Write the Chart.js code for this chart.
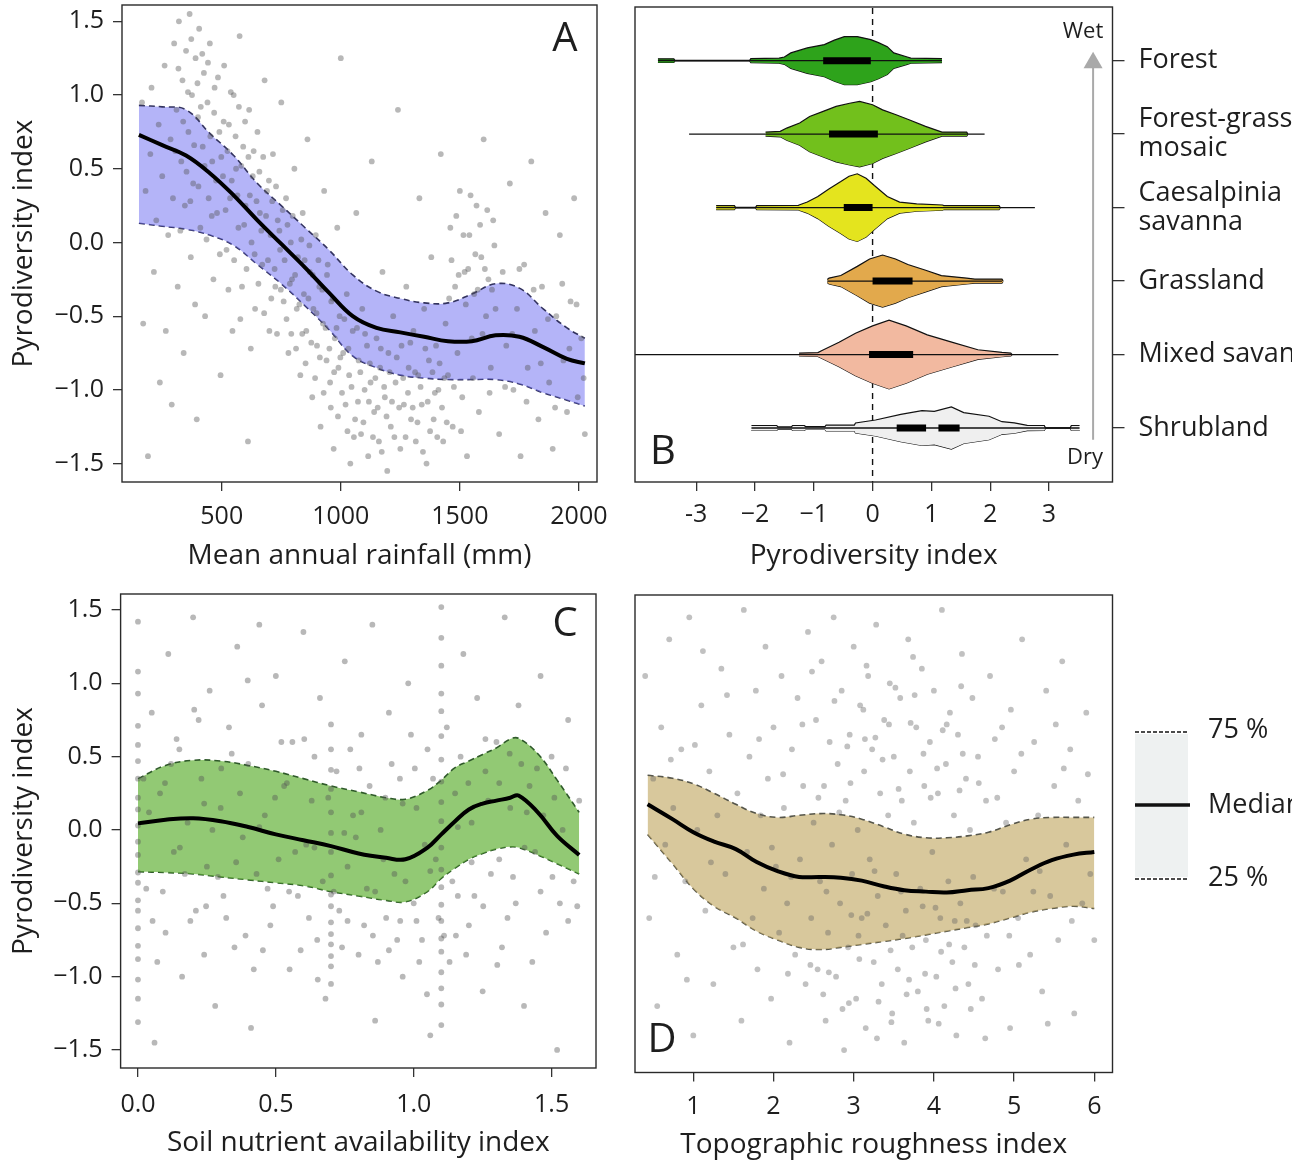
<!DOCTYPE html>
<html><head><meta charset="utf-8">
<script src="https://cdn.jsdelivr.net/npm/chart.js@4.4.1/dist/chart.umd.min.js"></script>
<style>
html,body{margin:0;padding:0;background:#fff;width:1292px;height:1166px;overflow:hidden}
canvas{position:absolute;display:block}
</style></head><body>
<canvas id="cA" width="620" height="580" style="left:0;top:0"></canvas>
<canvas id="cB" width="662" height="580" style="left:630px;top:0"></canvas>
<canvas id="cC" width="620" height="586" style="left:0;top:580px"></canvas>
<canvas id="cD" width="662" height="586" style="left:630px;top:580px"></canvas>
<script>
// ---------- shared tick labels ----------
const pyroTicks = [-1.5,-1,-0.5,0,0.5,1,1.5];
const pyroTickLabels = ['\u22121.5','\u22121.0','\u22120.5','0.0','0.5','1.0','1.5'];
const rainfallTicks = [500,1000,1500,2000];
const rainfallTickLabels = ['500','1000','1500','2000'];
const soilTicks = [0,0.5,1,1.5];
const soilTickLabels = ['0.0','0.5','1.0','1.5'];
const roughTicks = [1,2,3,4,5,6];
const roughTickLabels = ['1','2','3','4','5','6'];
const vegXTicks = [-3,-2,-1,0,1,2,3];
const vegXTickLabels = ['-3','\u22122','\u22121','0','1','2','3'];

// ---------- Panel A: rainfall ----------
const rainfallGrid   = [152,250,350,450,550,650,750,850,950,1050,1150,1250,1350,1450,1550,1650,1750,1850,1950,2025];
const rainfallMedian = [0.73,0.66,0.59,0.47,0.32,0.15,-0.01,-0.17,-0.34,-0.50,-0.58,-0.61,-0.64,-0.67,-0.67,-0.63,-0.64,-0.71,-0.79,-0.82];
const rainfallQ75    = [0.93,0.92,0.90,0.74,0.59,0.40,0.25,0.10,-0.05,-0.22,-0.33,-0.38,-0.41,-0.41,-0.35,-0.28,-0.31,-0.45,-0.58,-0.65];
const rainfallQ25    = [0.13,0.11,0.09,0.05,-0.02,-0.15,-0.28,-0.43,-0.59,-0.77,-0.85,-0.90,-0.92,-0.93,-0.93,-0.93,-0.96,-1.02,-1.07,-1.11];
const rainfallPoints = [
[165,0.95],[170,-0.55],[180,0.35],[190,-1.45],[200,0.6],[205,1.05],[215,-0.2],[225,0.15],[235,0.8],[240,-0.95],[250,0.45],[260,1.2],[265,-0.6],[275,0.05],[285,0.7],[290,-1.1],[295,0.3],[300,1.35],
[310,0.9],[315,-0.3],[320,1.5],[330,0.55],[335,1.1],[340,-0.75],[345,0.25],[350,1.3],[360,0.75],[365,1.55],[370,-0.1],[375,1.0],[380,0.4],[390,1.25],[395,-1.2],[400,0.85],[405,1.45],[410,0.1],[420,0.65],[425,1.15],[430,-0.5],[440,0.95],[445,0.3],[450,1.35],[460,0.55],[465,-0.25],[470,1.05],[480,0.2],[490,0.75],[495,-0.9],
[505,0.45],[510,1.2],[520,-0.05],[530,0.8],[535,0.3],[545,-0.6],[550,1.0],[560,0.5],[570,0.1],[575,1.4],[585,-0.3],[590,0.65],[600,0.25],[610,-1.35],[615,0.9],[625,0.0],[630,0.45],[640,-0.45],[650,0.75],[660,0.2],[670,-0.15],[680,1.1],[690,0.35],[700,-0.6],[705,0.05],[715,0.6],[725,-0.3],[735,0.15],[745,-0.05],[750,0.95],[760,-0.4],[770,0.3],[780,-0.75],[790,0.0],[795,-0.25],
[805,0.5],[815,-0.45],[820,-0.1],[830,-0.9],[840,0.2],[845,-0.35],[855,-0.6],[860,0.7],[870,-0.2],[880,-1.05],[885,-0.45],[895,0.05],[900,-0.7],[910,-0.3],[915,-1.25],[925,-0.55],[930,0.35],[940,-0.8],[945,-0.15],[955,-0.95],[960,-0.4],[970,-1.4],[975,-0.65],[985,0.1],[990,-0.85],[995,-0.5],[1000,1.25],
[1010,-0.75],[1020,-1.1],[1025,-0.35],[1035,-0.9],[1040,-1.5],[1050,-0.6],[1060,-1.2],[1065,0.2],[1075,-0.8],[1085,-1.3],[1090,-0.45],[1100,-1.0],[1110,-0.7],[1115,-1.45],[1125,-0.95],[1130,0.55],[1140,-1.15],[1150,-0.65],[1160,-1.35],[1165,-0.85],[1175,-0.2],[1185,-1.05],[1195,-1.55],[1200,-0.75],[1210,-1.25],[1220,-0.5],[1230,-0.95],[1240,0.9],[1250,-1.4],[1255,-0.7],[1265,-1.1],[1275,-0.3],[1285,-0.85],[1295,-1.2],
[1305,-0.6],[1315,-1.35],[1325,-0.9],[1330,0.3],[1340,-1.1],[1350,-0.45],[1360,-1.5],[1370,-0.8],[1380,-0.1],[1390,-1.2],[1400,-0.7],[1410,-1.0],[1420,0.6],[1430,-1.35],[1440,-0.55],[1450,-0.9],[1460,0.1],[1470,-1.25],[1480,-0.3],[1490,-0.75],[1500,0.35],[1510,-1.05],[1520,-0.2],[1530,-1.45],[1540,0.05],[1550,-0.65],[1560,-0.35],[1570,0.25],[1580,-1.15],[1590,-0.1],[1600,0.7],[1610,-0.5],[1620,-0.25],[1630,-0.85],[1640,0.15],[1650,-0.45],
[1665,-1.3],[1680,-0.2],[1695,-0.7],[1710,0.4],[1725,-1.0],[1740,-0.45],[1755,-1.45],[1770,-0.15],[1785,-0.85],[1800,0.55],[1815,-0.6],[1830,-1.2],[1845,-0.3],[1860,0.2],[1875,-0.95],[1890,-1.4],[1905,-0.5],[1920,0.05],[1935,-0.8],[1950,-1.15],[1965,-0.4],[1980,0.3],[1995,-1.05],[2010,-0.65],[2025,-1.3],
[305,0.62],[318,1.18],[326,0.08],[338,0.82],[352,0.48],[358,1.02],[368,0.28],[372,1.38],[384,0.66],[388,-0.42],[398,1.08],[402,0.38],[412,0.92],[418,1.28],[428,0.52],[436,0.02],[442,1.22],[452,0.72],[458,0.18],[468,0.88],[476,0.42],[484,1.12],[492,-0.08],[498,0.58],
[508,0.82],[516,0.22],[524,0.62],[528,-0.32],[538,1.02],[542,0.42],[552,-0.12],[558,0.72],[566,0.32],[572,0.92],[578,-0.52],[582,0.52],[594,0.12],[598,0.82],[604,-0.18],[612,0.58],[618,0.32],[622,-0.72],[634,0.62],[638,-0.08],[646,0.28],[654,-0.28],[658,0.48],[666,0.08],[674,0.58],[678,-0.48],[686,0.18],[694,-0.12],[698,0.42],[708,-0.38],[712,0.28],[722,-0.18],[728,0.38],[732,-0.62],[742,0.08],[748,-0.32],[756,0.22],[764,-0.12],[772,-0.52],[776,0.12],[786,-0.28],[792,-0.62],[798,0.18],
[808,-0.22],[812,-0.72],[826,-0.42],[834,0.02],[838,-0.62],[848,-0.12],[852,-0.82],[864,-0.38],[868,-0.02],[876,-0.68],[882,-0.22],[892,-0.92],[898,-0.48],[906,-0.12],[912,-0.78],[922,-0.32],[928,-1.02],[936,-0.58],[942,-0.22],[952,-0.72],[958,-1.12],[966,-0.38],[972,-0.88],[982,-0.58],[988,-1.18],[998,-0.78],
[1005,-1.02],[1015,-0.52],[1028,-1.28],[1032,-0.72],[1045,-0.98],[1055,-1.32],[1068,-0.58],[1072,-1.08],[1082,-0.88],[1095,-1.22],[1102,-0.62],[1118,-1.08],[1122,-0.82],[1135,-1.32],[1145,-0.92],[1155,-1.12],[1168,-0.72],[1172,-1.42],[1182,-0.98],[1192,-1.18],[1205,-0.88],[1215,-1.08],[1225,-1.32],[1235,-0.78],[1245,-1.12],[1262,-0.92],[1272,-1.32],[1282,-1.02],[1292,-0.68],
[1302,-1.12],[1312,-0.88],[1322,-1.22],[1335,-0.98],[1345,-1.42],[1355,-0.72],[1365,-1.08],[1375,-1.28],[1385,-0.88],[1395,-1.02],[1405,-1.32],[1415,-0.82],[1425,-1.12],[1435,-0.92],[1445,-1.22],[1455,-0.38],[1465,-0.12],[1475,-0.98],[1485,0.18],[1495,-0.22],[1505,-1.28],[1515,0.05],[1525,-0.42],[1535,-0.18],[1545,0.32],[1555,-0.92],[1565,-0.08],[1575,-0.32],[1585,0.12],[1595,-0.62],[1605,-0.18],[1615,0.22],[1625,-1.02],[1635,-0.32],[1645,-0.02],
[1690,-0.98],[1720,-0.62],[1750,-0.18],[1780,-1.08],[1810,-0.32],[1840,-0.82],[1870,-0.52],[1900,-1.12],[1930,-0.28],[1960,-0.72],[1990,-0.42],[2020,-0.92]
];

// ---------- Panel B: vegetation types ----------
const vegTypes = ['Shrubland','Mixed savanna','Grassland','Caesalpinia savanna','Forest-grass mosaic','Forest'];
const vegTypeLabels = [['Shrubland'],['Mixed savanna'],['Grassland'],['Caesalpinia','savanna'],['Forest-grass','mosaic'],['Forest']];
const vegColors = ['#efefef','#f2b9a0','#e2a94c','#e4e41e','#72c01c','#2ea31b'];
const vegMin = [-2.06,-4.6,-0.77,-2.66,-3.12,-3.65];
const vegMax = [3.52,3.16,2.20,2.76,1.905,1.18];
const vegQ25 = [0.41,-0.06,0.0,-0.49,-0.74,-0.84];
const vegQ75 = [1.48,0.69,0.68,0.0,0.09,-0.03];
const shrubMedianGap = [0.91,1.12];
// violin outlines: pyrodiversity position and half width (category units)
const shrubX = [-2.06,-1.63,-1.61,-1.38,-1.36,-1.16,-1.14,-0.81,-0.79,-0.31,-0.29,0.05,0.48,0.84,1.05,1.34,1.55,1.98,2.2,2.41,2.63,2.92,2.94,3.36,3.38,3.52];
const shrubW = [0.034,0.034,0.014,0.014,0.034,0.034,0.02,0.02,0.04,0.04,0.068,0.109,0.186,0.237,0.226,0.286,0.21,0.16,0.086,0.07,0.035,0.034,0.003,0.003,0.034,0.034];
const mixedX = [-1.25,-0.93,-0.86,-0.57,-0.29,0.0,0.28,0.57,0.93,1.36,1.79,2.2,2.35,2.37];
const mixedW = [0.02,0.027,0.054,0.166,0.29,0.39,0.468,0.39,0.267,0.166,0.065,0.03,0.02,0.003];
const grassX = [-0.77,-0.74,-0.54,-0.26,-0.05,0.17,0.39,0.60,0.89,1.17,1.6,1.74,2.2,2.22];
const grassW = [0.02,0.04,0.075,0.20,0.30,0.354,0.30,0.226,0.15,0.075,0.04,0.027,0.027,0.003];
const caesX = [-2.66,-2.35,-2.33,-1.99,-1.97,-1.26,-1.25,-1.11,-0.93,-0.75,-0.54,-0.40,-0.26,-0.11,0.03,0.25,0.46,0.75,1.19,1.21,2.15,2.17];
const caesW = [0.027,0.027,0.003,0.003,0.027,0.03,0.035,0.075,0.15,0.25,0.354,0.427,0.46,0.40,0.30,0.15,0.075,0.05,0.035,0.027,0.027,0.003];
const mosaicX = [-1.82,-1.57,-1.46,-1.24,-1.07,-0.84,-0.62,-0.39,-0.22,0.0,0.17,0.40,0.62,0.90,1.07,1.18,1.35,1.60,1.62];
const mosaicW = [0.027,0.037,0.082,0.15,0.24,0.31,0.377,0.42,0.445,0.40,0.33,0.263,0.195,0.105,0.058,0.027,0.027,0.027,0.003];
const forestX = [-3.65,-3.38,-3.36,-2.09,-2.07,-1.59,-1.50,-1.39,-1.11,-0.82,-0.65,-0.48,-0.26,-0.03,0.10,0.25,0.36,0.59,0.65,1.18];
const forestW = [0.025,0.025,0.003,0.003,0.027,0.034,0.05,0.105,0.173,0.218,0.279,0.327,0.327,0.286,0.245,0.19,0.105,0.05,0.034,0.027];

// ---------- Panel C: soil ----------
const soilGrid   = [0.0,0.1,0.2,0.3,0.4,0.5,0.6,0.7,0.8,0.9,0.97,1.05,1.1,1.15,1.2,1.25,1.3,1.35,1.38,1.45,1.52,1.6];
const soilMedian = [0.045,0.07,0.08,0.06,0.02,-0.03,-0.07,-0.11,-0.16,-0.19,-0.20,-0.12,-0.03,0.06,0.14,0.18,0.20,0.22,0.235,0.12,-0.04,-0.17];
const soilQ75    = [0.35,0.44,0.475,0.47,0.44,0.40,0.35,0.30,0.26,0.22,0.21,0.27,0.34,0.425,0.47,0.515,0.56,0.62,0.625,0.52,0.34,0.12];
const soilQ25    = [-0.285,-0.29,-0.30,-0.32,-0.34,-0.36,-0.38,-0.42,-0.45,-0.48,-0.49,-0.42,-0.33,-0.26,-0.20,-0.16,-0.13,-0.115,-0.12,-0.17,-0.23,-0.30];
const soilPoints = [
[0,1.42],[0,1.08],[0,0.93],[0,0.71],[0,0.58],[0,0.47],[0,0.35],[0,0.22],[0,0.14],[0,0.03],[0,-0.08],[0,-0.17],[0,-0.29],[0,-0.36],[0,-0.48],[0,-0.55],[0,-0.67],[0,-0.79],[0,-0.88],[0,-1.02],[0,-1.15],[0,-1.31],
[0.7,0.72],[0.7,0.55],[0.7,0.41],[0.7,0.28],[0.7,0.12],[0.7,-0.02],[0.7,-0.15],[0.7,-0.31],[0.7,-0.44],[0.7,-0.52],[0.7,-0.63],[0.7,-0.71],[0.7,-0.78],[0.7,-0.86],[0.7,-0.93],[0.7,-1.05],
[1.1,1.52],[1.1,1.31],[1.1,1.12],[1.1,0.93],[1.1,0.81],[1.1,0.64],[1.1,0.48],[1.1,0.33],[1.1,0.19],[1.1,0.06],[1.1,-0.12],[1.1,-0.27],[1.1,-0.39],[1.1,-0.51],[1.1,-0.62],[1.1,-0.74],[1.1,-0.83],[1.1,-0.97],[1.1,-1.08],[1.1,-1.19],[1.1,-1.33],
[0.03,-0.4],[0.05,0.8],[0.06,-1.45],[0.08,0.25],[0.1,-0.7],[0.11,1.2],[0.13,-0.15],[0.15,0.55],[0.16,-1.0],[0.18,0.05],[0.2,1.45],[0.21,-0.55],[0.23,0.35],[0.25,-0.25],[0.26,0.95],[0.28,-1.2],[0.3,0.15],[0.31,-0.45],[0.33,0.7],[0.35,-0.8],[0.36,1.25],[0.38,-0.05],[0.4,0.45],[0.41,-1.35],[0.43,-0.3],[0.45,0.85],[0.46,0.1],[0.48,-0.65],[0.5,1.05],[0.51,-0.2],[0.53,0.3],[0.55,-0.95],[0.56,0.6],[0.58,-0.45],[0.6,1.35],[0.61,-0.1],[0.63,0.2],[0.65,-0.75],[0.66,0.9],[0.68,-1.15],[0.72,0.4],[0.73,-0.55],[0.75,1.15],[0.76,-0.25],[0.78,0.1],[0.8,-0.85],[0.81,0.65],[0.83,-0.4],[0.85,1.4],[0.86,-1.3],[0.88,0.0],[0.9,-0.6],[0.91,0.8],[0.93,-0.3],[0.95,0.35],[0.96,-1.0],[0.98,1.0],[1.0,-0.5],[1.01,0.15],[1.03,-0.75],[1.05,0.55],[1.06,-1.4],[1.08,-0.2],[1.12,0.7],[1.13,-0.9],[1.15,0.25],[1.16,-0.45],[1.18,1.2],[1.2,-0.65],[1.21,0.05],[1.23,0.9],[1.25,-1.1],[1.26,0.4],[1.28,-0.3],[1.3,0.6],[1.32,-0.8],[1.33,1.45],[1.35,0.15],[1.37,-0.5],[1.38,0.85],[1.4,-1.2],[1.42,0.3],[1.44,-0.15],[1.46,1.05],[1.48,-0.7],[1.5,0.5],[1.52,-1.5],[1.54,0.0],[1.56,0.75],[1.58,-0.35],[1.6,0.2],
[0.02,0.35],[0.07,-0.9],[0.12,0.45],[0.17,-0.3],[0.22,0.75],[0.24,-0.85],[0.27,0.0],[0.32,-0.6],[0.37,0.25],[0.42,-0.95],[0.44,1.4],[0.47,-0.4],[0.52,0.6],[0.57,-0.15],[0.62,-0.6],[0.64,0.5],[0.67,-0.35],[0.74,-0.8],[0.77,0.55],[0.79,-0.05],[0.82,-0.65],[0.84,0.3],[0.87,-0.9],[0.89,-0.2],[0.92,0.45],[0.94,-0.75],[0.97,-0.35],[0.99,0.65],[1.02,-0.9],[1.04,-0.1],[1.07,0.35],[1.09,-0.6],[1.14,-0.35],[1.17,0.5],[1.19,-0.85],[1.22,-0.45],[1.27,0.2],[1.31,-0.2],[1.34,-0.6],[1.39,0.45],[1.43,-0.9],[1.47,0.1],[1.53,-0.5],
[0.04,0.12],[0.09,-0.42],[0.14,0.62],[0.19,-0.62],[0.24,0.18],[0.29,-0.32],[0.34,0.52],[0.39,-0.72],[0.44,0.02],[0.49,-0.52],[0.54,0.32],[0.59,-0.82],[0.64,-0.12],[0.69,0.22],[0.71,-0.42],[0.76,-0.62],[0.81,0.12],[0.86,-0.42],[0.91,-0.82],[0.96,0.18],[1.01,-0.62],[1.06,-0.28],[1.11,-0.72],[1.16,0.02],[1.21,-0.22],[1.26,0.62],[1.31,0.32],[1.36,-0.32],[1.41,0.12],[1.46,-0.42],[1.51,0.22],[1.56,-0.62],
[0.053,-0.62],[0.098,0.32],[0.152,-0.12],[0.204,0.82],[0.247,-0.52],[0.302,0.42],[0.356,-0.22],[0.398,1.02],[0.453,-0.82],[0.497,0.22],[0.548,-0.42],[0.603,0.62],[0.652,-1.02],[0.748,-0.02],[0.803,0.42],[0.852,-0.72],[0.897,0.22],[0.951,-0.62],[1.004,0.42],[1.048,-1.12],[1.153,-0.72],[1.198,0.32],[1.252,-0.52],[1.303,-0.92],[1.348,0.52],[1.402,-0.12],[1.447,0.42],[1.503,-0.32],[1.552,0.42],[1.593,-0.52]
];

// ---------- Panel D: topographic roughness ----------
const roughGrid   = [0.43,0.74,1.0,1.26,1.53,1.79,2.05,2.32,2.58,2.84,3.1,3.37,3.63,3.9,4.16,4.42,4.68,4.95,5.21,5.47,5.74,6.0];
const roughMedian = [0.175,0.074,-0.015,-0.079,-0.13,-0.218,-0.28,-0.32,-0.32,-0.325,-0.345,-0.383,-0.41,-0.42,-0.426,-0.41,-0.396,-0.345,-0.269,-0.206,-0.168,-0.15];
const roughQ75    = [0.373,0.353,0.315,0.25,0.175,0.112,0.086,0.10,0.112,0.104,0.074,0.023,-0.028,-0.053,-0.053,-0.04,-0.015,0.036,0.074,0.086,0.086,0.086];
const roughQ25    = [-0.03,-0.23,-0.40,-0.52,-0.60,-0.69,-0.75,-0.80,-0.815,-0.80,-0.78,-0.76,-0.74,-0.715,-0.69,-0.665,-0.64,-0.60,-0.56,-0.535,-0.52,-0.535];
const roughPoints = [
[0.4,1.05],[0.45,-0.6],[0.5,0.35],[0.55,-1.2],[0.6,0.7],[0.65,-0.1],[0.7,1.3],[0.75,0.15],[0.8,-0.85],[0.85,0.55],[0.9,-0.35],[0.95,1.45],[1.0,-1.4],[1.05,0.0],[1.1,0.85],[1.15,-0.55],[1.2,0.4],[1.25,-1.05],[1.3,0.1],[1.35,1.1],[1.4,-0.3],[1.45,0.65],[1.5,-0.8],
[1.55,0.25],[1.6,-1.3],[1.63,1.5],[1.67,-0.15],[1.7,0.5],[1.74,-0.6],[1.78,0.95],[1.8,-0.95],[1.84,0.1],[1.88,-0.4],[1.9,1.25],[1.93,0.35],[1.97,-1.15],[2.0,0.7],[2.03,-0.25],[2.07,-0.7],[2.1,1.05],[2.13,0.15],[2.17,-0.5],[2.2,-1.45],[2.23,0.55],[2.27,-0.85],[2.3,0.9],[2.33,-0.2],[2.37,0.3],[2.4,-1.05],[2.43,1.35],[2.47,-0.6],[2.5,0.05],
[2.53,0.75],[2.55,-0.95],[2.58,-0.35],[2.6,1.15],[2.63,0.3],[2.65,-1.3],[2.68,-0.7],[2.7,0.6],[2.73,-0.1],[2.75,1.45],[2.78,-1.0],[2.8,0.45],[2.83,-0.5],[2.85,0.95],[2.88,-1.5],[2.9,0.2],[2.93,-0.8],[2.95,0.65],[2.98,-0.3],[3.0,1.25],[3.03,-1.15],[3.05,0.0],[3.08,0.85],[3.1,-0.6],[3.13,0.4],[3.15,-1.35],[3.18,1.05],[3.2,-0.2],[3.23,0.55],[3.25,-0.9],[3.28,1.4],[3.3,-0.45],[3.33,0.25],[3.35,-1.05],[3.38,0.75],[3.4,-0.65],[3.43,0.1],[3.45,1.0],[3.48,-1.25],
[3.5,0.5],[3.53,-0.3],[3.55,-0.95],[3.58,0.9],[3.6,0.2],[3.63,-1.45],[3.65,-0.55],[3.68,1.3],[3.7,0.4],[3.73,-0.8],[3.75,0.05],[3.78,0.7],[3.8,-1.1],[3.83,-0.4],[3.85,1.1],[3.88,0.3],[3.9,-0.75],[3.93,-1.3],[3.95,0.6],[3.98,-0.15],[4.0,0.95],[4.03,-1.0],[4.05,0.25],[4.08,-0.6],[4.1,1.5],[4.13,-1.2],[4.15,0.45],[4.18,-0.35],[4.2,0.8],[4.23,-0.9],[4.25,0.1],[4.28,-1.4],[4.3,0.65],[4.33,-0.5],[4.35,1.2],[4.38,-0.8],[4.4,0.35],[4.43,-1.05],[4.45,0.0],[4.48,0.9],
[4.52,-0.65],[4.55,0.5],[4.6,-1.15],[4.65,0.2],[4.7,1.05],[4.75,-0.4],[4.8,-0.95],[4.85,0.7],[4.9,0.05],[4.95,-1.35],[5.0,0.4],[5.05,-0.6],[5.1,1.3],[5.15,-0.2],[5.2,-0.85],[5.25,0.6],[5.3,0.1],[5.35,-1.1],[5.4,0.95],[5.45,-0.45],[5.5,0.3],[5.55,-0.75],[5.6,1.15],[5.65,-0.1],[5.7,0.55],[5.75,-1.25],[5.8,0.2],[5.85,-0.5],[5.9,0.8],[5.95,-0.3],[6.0,-0.75],
[2.92,0.57],[3.12,0.82],[3.27,0.63],[3.52,0.97],[3.71,0.73],[3.87,0.52],[4.11,0.68],[4.32,0.27],[2.69,-0.97],[2.94,-1.18],[3.07,-0.88],[3.31,-1.17],[3.47,-1.31],[3.69,-1.02],[3.91,-1.22],[4.09,-0.83],[4.27,-1.08],[4.51,-0.92],[3.17,-0.57],[3.61,-0.72],[4.02,-0.53],[4.41,-0.62],
[2.12,0.38],[2.22,-0.32],[2.36,0.72],[2.46,-0.92],[2.56,0.22],[2.66,-0.42],[2.76,0.88],[2.86,-1.22],[2.96,0.32],[3.06,-0.72],[3.16,1.12],[3.26,-0.28],[3.36,0.48],[3.46,-0.82],[3.56,0.28],[3.66,-1.12],[3.76,0.92],[3.86,-0.52],[3.96,0.22],[4.06,-1.32],[4.16,0.72],[4.26,-0.62],[4.36,0.52],[4.46,-1.22],[4.56,0.32],[4.66,-0.72],[4.76,0.62],[4.86,-0.42],[4.96,0.82],[5.06,-0.92],
[2.18,-0.98],[2.48,1.08],[2.62,-1.12],[2.82,0.12],[2.97,-0.58],[3.14,0.62],[3.29,-1.42],[3.44,0.72],[3.59,-0.42],[3.74,1.18],[3.89,-0.98],[4.04,0.42],[4.19,-0.78],[4.34,0.98],[4.49,-0.32],[4.64,-1.42],[4.79,0.22],[4.94,-0.72],[5.09,0.52],[5.24,-0.42],
[1.02,0.58],[1.22,-0.22],[1.42,0.92],[1.62,-0.78],[1.82,0.62],[1.98,-0.12],[5.32,-0.28],[5.52,0.72],[5.72,-0.62],[5.92,0.38],[0.52,-0.32],[0.72,0.48],[0.92,-1.02],[1.12,1.22],[5.42,-1.32],[5.62,0.42]
];

// ---------- helpers ----------
const FONT = "'Open Sans', 'DejaVu Sans', sans-serif";
const INK = '#1e1e1e';
const pts = (xs, ys) => xs.map((x, i) => ({x, y: ys[i]}));

const framePlugin = { id: 'frame', afterDraw(chart) {
  const a = chart.chartArea, c = chart.ctx;
  c.save(); c.strokeStyle = '#2a2a2a'; c.lineWidth = 1.4;
  c.strokeRect(a.left, a.top, a.right - a.left, a.bottom - a.top); c.restore();
}};
function textPlugin(name, items) {
  return { id: 'txt' + name, afterDraw(chart) {
    const a = chart.chartArea, c = chart.ctx;
    c.save();
    items.forEach(it => {
      c.font = it.font; c.fillStyle = it.color || INK;
      c.textAlign = it.align || 'center'; c.textBaseline = 'middle';
      const x = it.fromRight ? a.right - it.dx : a.left + it.dx;
      const y = it.fromBottom ? a.bottom - it.dy : a.top + it.dy;
      c.fillText(it.text, x, y);
    });
    c.restore();
  }};
}
function xAxis(min, max, ticks, labels, title, tickPad, titlePad, height) {
  return { type: 'linear', position: 'bottom', min, max,
    afterBuildTicks: s => { s.ticks = ticks.map(v => ({value: v})); },
    afterFit: s => { s.height = height; s.paddingLeft = 0; s.paddingRight = 0; },
    grid: { drawOnChartArea: false, drawTicks: true, tickLength: 9, color: '#333', lineWidth: 1.3 },
    border: { display: false },
    ticks: { autoSkip: false, maxRotation: 0, padding: tickPad, color: INK, font: {family: FONT, size: 25}, callback: (v, i) => labels[i] },
    title: { display: true, text: title, color: INK, font: {family: FONT, size: 28}, padding: {top: 0, bottom: titlePad} } };
}
function yAxisLeft(min, max, width) {
  return { type: 'linear', position: 'left', min, max,
    afterBuildTicks: s => { s.ticks = pyroTicks.map(v => ({value: v})); },
    afterFit: s => { s.width = width; s.paddingTop = 0; s.paddingBottom = 0; },
    grid: { drawOnChartArea: false, drawTicks: true, tickLength: 9, color: '#333', lineWidth: 1.3 },
    border: { display: false },
    ticks: { autoSkip: false, padding: 9, color: INK, font: {family: FONT, size: 25}, callback: (v, i) => pyroTickLabels[i] },
    title: { display: true, text: 'Pyrodiversity index', color: INK, font: {family: FONT, size: 28}, padding: {top: 7, bottom: 0} } };
}
function bandSets(xs, med, q75, q25, fillColor, dashColor, scatter, ptColor) {
  return [
    {data: pts(xs, q75), showLine: true, borderColor: dashColor, borderDash: [6, 4], borderWidth: 1.6, pointRadius: 0, fill: '+1', backgroundColor: fillColor, tension: 0.4, order: 3, clip: 0},
    {data: pts(xs, q25), showLine: true, borderColor: dashColor, borderDash: [6, 4], borderWidth: 1.6, pointRadius: 0, fill: false, tension: 0.4, order: 3, clip: 0},
    {data: scatter.map(([x, y]) => ({x, y})), showLine: false, pointRadius: 2.9, pointBorderWidth: 0, pointBackgroundColor: ptColor, backgroundColor: ptColor, order: 2, clip: 0},
    {data: pts(xs, med), showLine: true, borderColor: '#000', borderWidth: 4, pointRadius: 0, fill: false, tension: 0.4, order: 1, clip: 0}
  ];
}
const baseOpts = (layoutPad, scales) => ({
  responsive: false, animation: false, events: [], devicePixelRatio: 1,
  layout: { padding: layoutPad, autoPadding: false },
  plugins: { legend: { display: false }, tooltip: { enabled: false } },
  scales });

// ---------- Chart A ----------
new Chart(document.getElementById('cA'), {
  type: 'scatter',
  data: { datasets: bandSets(rainfallGrid, rainfallMedian, rainfallQ75, rainfallQ25, 'rgba(118,118,242,0.55)', '#33335f', rainfallPoints, 'rgba(85,85,85,0.42)') },
  options: baseOpts({left: 0, top: 5, right: 23, bottom: 0}, {
    x: xAxis(81, 2076, rainfallTicks, rainfallTickLabels, 'Mean annual rainfall (mm)', 11, 7, 98),
    y: yAxisLeft(-1.625, 1.611, 122) }),
  plugins: [framePlugin, textPlugin('A', [{text: 'A', font: '40px ' + FONT, fromRight: true, dx: 32, dy: 35}])]
});

// ---------- Chart B ----------
const vegProfiles = [[shrubX, shrubW], [mixedX, mixedW], [grassX, grassW], [caesX, caesW], [mosaicX, mosaicW], [forestX, forestW]];
const bSets = [];
bSets.push({data: [{x: 0, y: -1}, {x: 0, y: 8}], showLine: true, borderColor: '#111', borderDash: [6, 5], borderWidth: 1.4, pointRadius: 0, order: 5, clip: 0});
vegProfiles.forEach(([xs, ws], i) => {
  const cat = i + 1;
  bSets.push({data: xs.map((x, k) => ({x, y: cat + ws[k]})), showLine: true, borderColor: '#111', borderWidth: 1.2, pointRadius: 0, fill: '+1', backgroundColor: vegColors[i], order: 3, clip: 0});
  bSets.push({data: xs.map((x, k) => ({x, y: cat - ws[k]})), showLine: true, borderColor: '#111', borderWidth: 1.2, pointRadius: 0, fill: false, order: 3, clip: 0});
  bSets.push({data: [{x: vegMin[i], y: cat}, {x: vegMax[i], y: cat}], showLine: true, borderColor: '#111', borderWidth: 1.3, pointRadius: 0, order: 1, clip: 0});
  const iqr = (i === 0)
    ? [{x: vegQ25[i], y: cat}, {x: shrubMedianGap[0], y: cat}, {x: (shrubMedianGap[0] + shrubMedianGap[1]) / 2, y: null}, {x: shrubMedianGap[1], y: cat}, {x: vegQ75[i], y: cat}]
    : [{x: vegQ25[i], y: cat}, {x: vegQ75[i], y: cat}];
  bSets.push({data: iqr, showLine: true, spanGaps: false, borderColor: '#000', borderWidth: 7, pointRadius: 0, order: 0, clip: 0});
});
bSets.push({data: [{x: 3.75, y: 0.84}, {x: 3.75, y: 5.9}], showLine: true, borderColor: '#a9a9a9', borderWidth: 2, pointRadius: 0, order: 1, clip: 0});
bSets.push({data: [{x: 3.75, y: 5.97}], showLine: false, pointStyle: 'triangle', pointRadius: 11, pointBackgroundColor: '#a9a9a9', pointBorderColor: '#a9a9a9', pointBorderWidth: 0, order: 1, clip: 0});

new Chart(document.getElementById('cB'), {
  type: 'scatter',
  data: { datasets: bSets },
  options: baseOpts({left: 5, top: 7, right: 0, bottom: 0}, {
    x: xAxis(-4.04, 4.08, vegXTicks, vegXTickLabels, 'Pyrodiversity index', 9, 7, 98),
    y: { type: 'linear', position: 'right', min: 0.265, max: 6.73,
      afterBuildTicks: s => { s.ticks = vegTypes.map((v, i) => ({value: i + 1})); },
      afterFit: s => { s.width = 179.5; s.paddingTop = 0; s.paddingBottom = 0; },
      grid: { drawOnChartArea: false, drawTicks: true, tickLength: 12, color: '#333', lineWidth: 1.3 },
      border: { display: false },
      ticks: { autoSkip: false, padding: 14, color: INK, font: {family: FONT, size: 27, lineHeight: 1.08}, callback: (v, i) => vegTypeLabels[i] } } }),
  plugins: [framePlugin, textPlugin('B', [
    {text: 'B', font: '40px ' + FONT, dx: 28, fromBottom: true, dy: 29},
    {text: 'Wet', font: '22px ' + FONT, fromRight: true, dx: 29.5, dy: 25},
    {text: 'Dry', font: '22px ' + FONT, fromRight: true, dx: 27.5, fromBottom: true, dy: 24}])]
});

// ---------- Chart C ----------
new Chart(document.getElementById('cC'), {
  type: 'scatter',
  data: { datasets: bandSets(soilGrid, soilMedian, soilQ75, soilQ25, 'rgba(104,180,62,0.72)', '#2f5a2a', soilPoints, 'rgba(85,85,85,0.42)') },
  options: baseOpts({left: 0, top: 14, right: 24, bottom: 0}, {
    x: xAxis(-0.063, 1.661, soilTicks, soilTickLabels, 'Soil nutrient availability index', 13, 6, 98),
    y: yAxisLeft(-1.623, 1.609, 120.6) }),
  plugins: [framePlugin, textPlugin('C', [{text: 'C', font: '40px ' + FONT, fromRight: true, dx: 31, dy: 31}])]
});

// ---------- Chart D ----------
const legendPlugin = { id: 'qlegend', afterDraw(chart) {
  const c = chart.ctx;
  c.save();
  c.fillStyle = '#eef1f1'; c.fillRect(505, 154, 53, 143);
  c.strokeStyle = '#111'; c.lineWidth = 1.4; c.setLineDash([4, 2]);
  c.beginPath(); c.moveTo(505, 152); c.lineTo(558, 152); c.moveTo(505, 299); c.lineTo(558, 299); c.stroke();
  c.setLineDash([]); c.lineWidth = 3.5; c.beginPath(); c.moveTo(505, 225); c.lineTo(560, 225); c.stroke();
  c.fillStyle = INK; c.font = '27px ' + FONT; c.textAlign = 'left'; c.textBaseline = 'middle';
  c.fillText('75 %', 578, 150); c.fillText('Median', 578, 225); c.fillText('25 %', 578, 298);
  c.restore();
}};
new Chart(document.getElementById('cD'), {
  type: 'scatter',
  data: { datasets: bandSets(roughGrid, roughMedian, roughQ75, roughQ25, 'rgba(196,172,104,0.66)', '#55554a', roughPoints, 'rgba(100,100,100,0.4)') },
  options: baseOpts({left: 5, top: 15, right: 179.5, bottom: 0}, {
    x: xAxis(0.273, 6.227, roughTicks, roughTickLabels, 'Topographic roughness index', 10, 4, 93.5),
    y: { type: 'linear', display: false, min: -1.653, max: 1.602 } }),
  plugins: [framePlugin, legendPlugin, textPlugin('D', [{text: 'D', font: '40px ' + FONT, dx: 27, fromBottom: true, dy: 32}])]
});
</script>
</body></html>
